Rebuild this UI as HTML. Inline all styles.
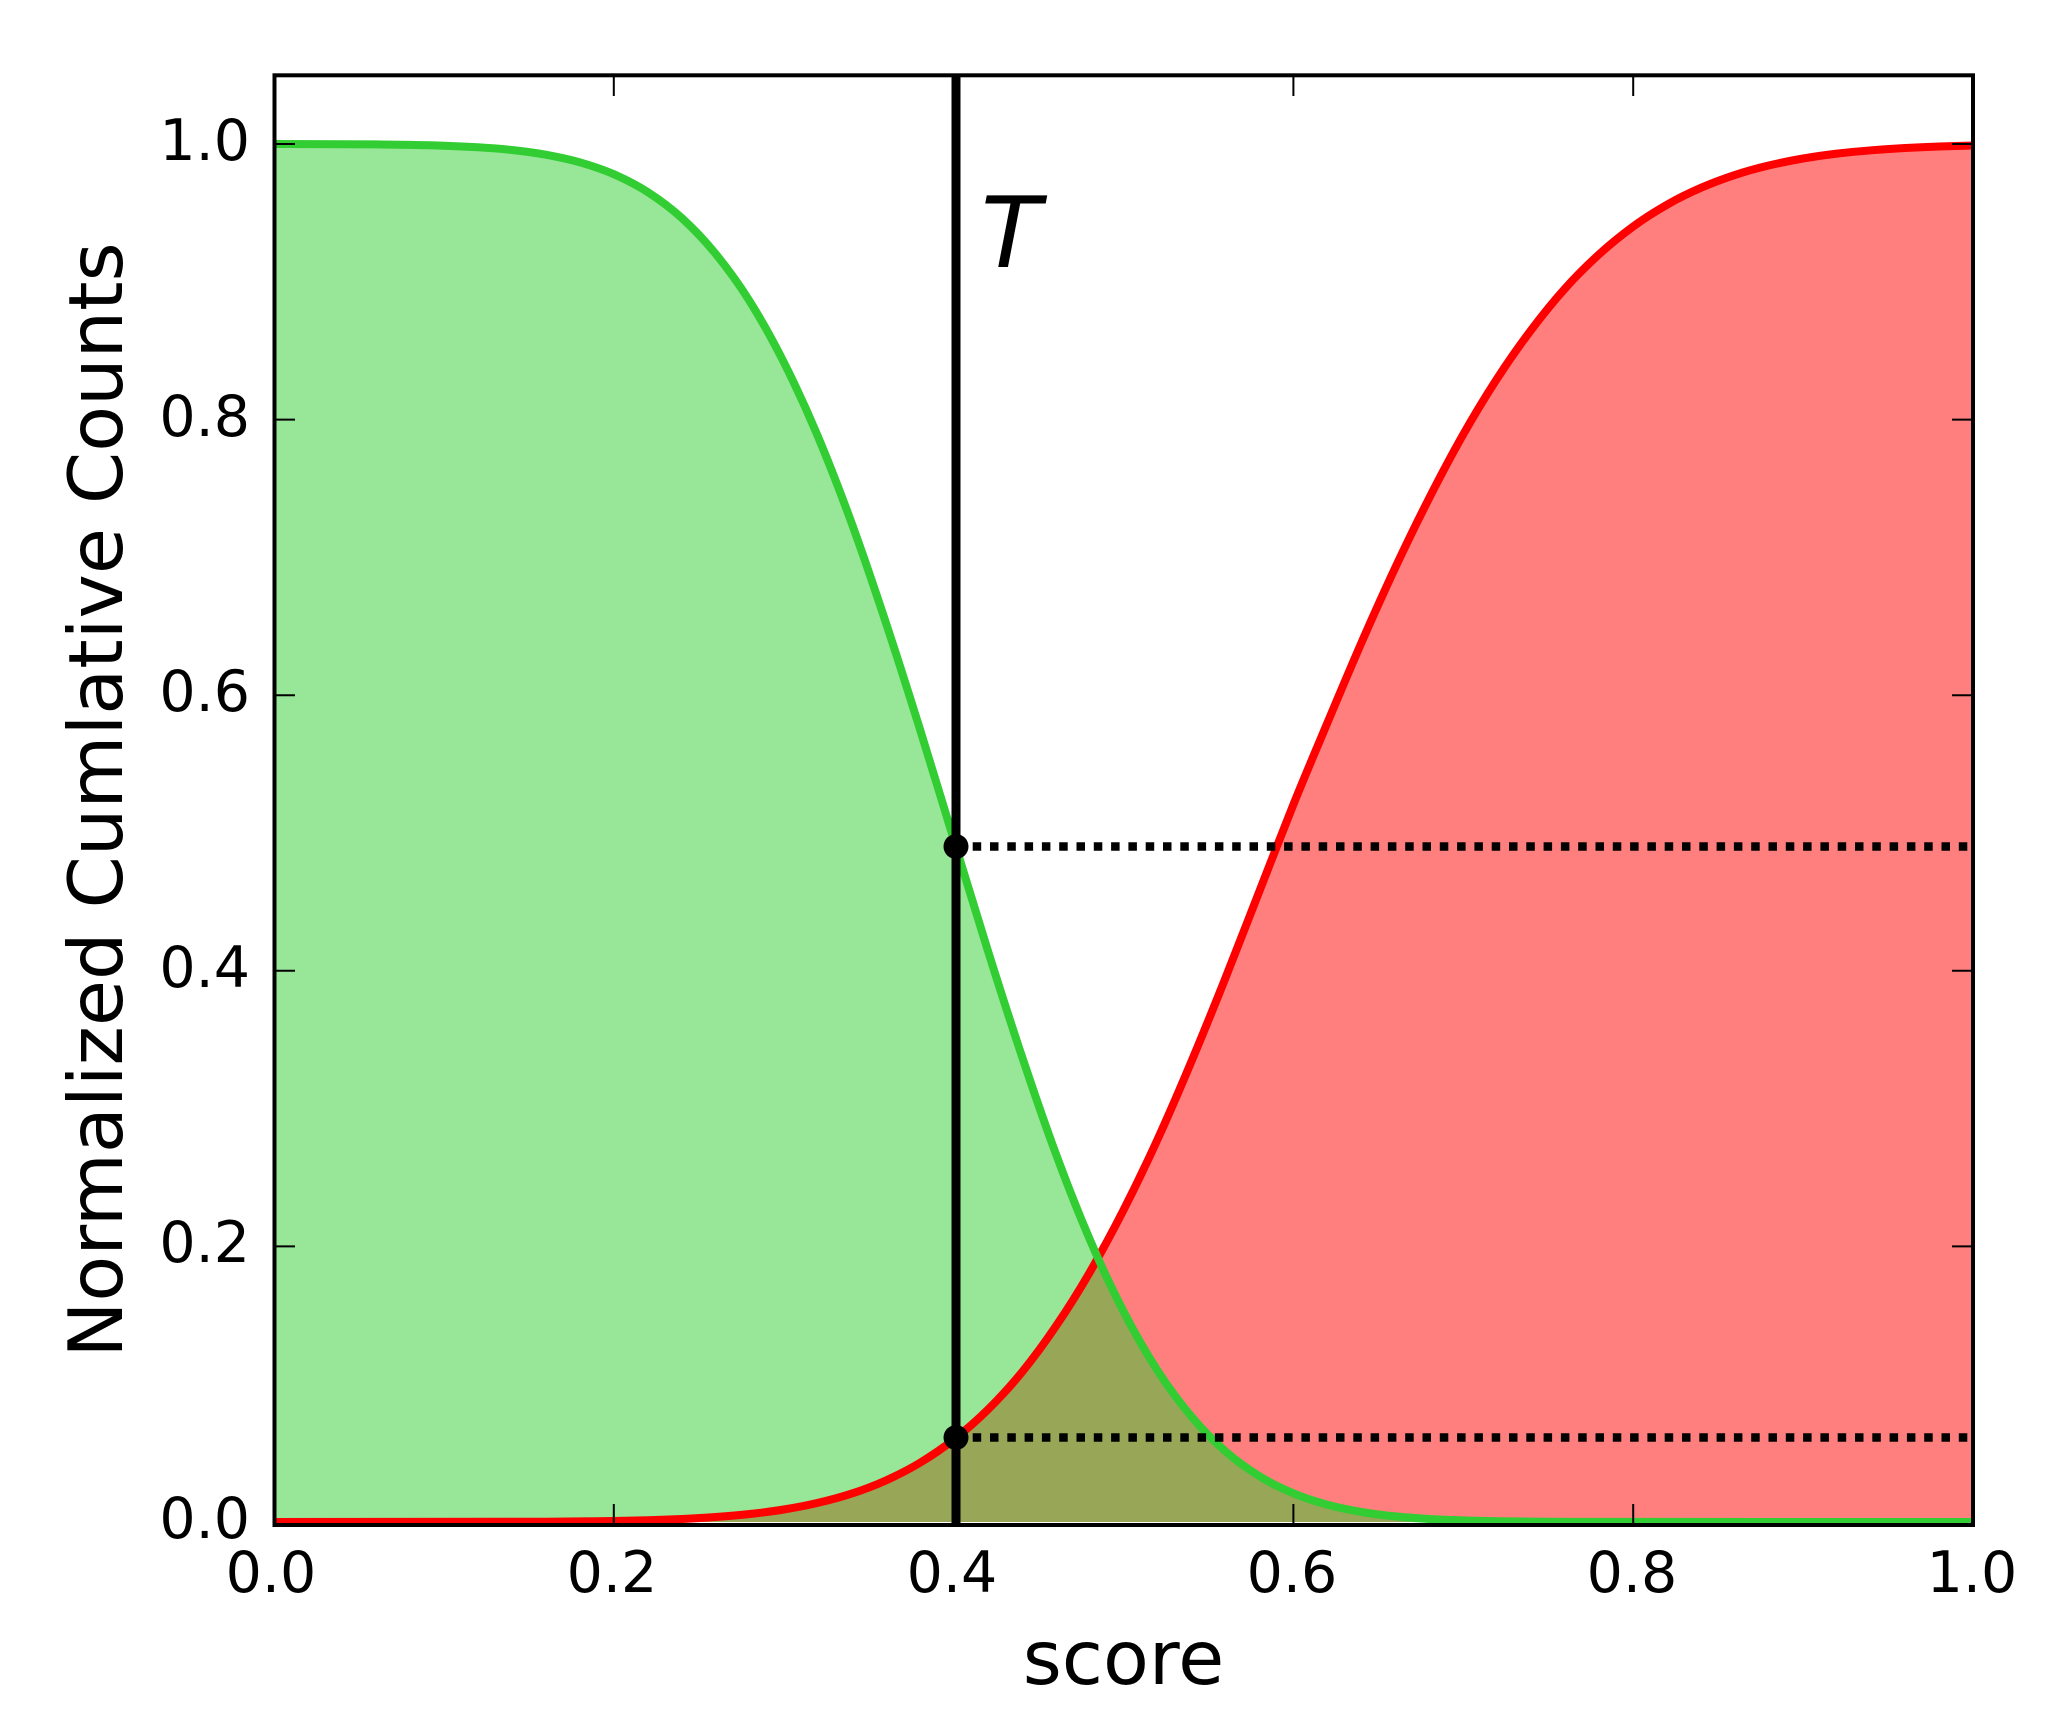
<!DOCTYPE html>
<html>
<head>
<meta charset="utf-8">
<style>
  html, body { margin: 0; padding: 0; background: #ffffff; }
  svg { display: block; }
  text { font-family: "DejaVu Sans", "Liberation Sans", sans-serif; fill: #000; }
</style>
</head>
<body>
<svg width="2068" height="1725" viewBox="0 0 2068 1725" xmlns="http://www.w3.org/2000/svg">
  <defs>
    <path id="redcurve" d="M274,1522 L545.8,1521.7 L579.8,1521.4 C591.1,1521.3 602.5,1521.2 613.8,1521.0 C625.1,1520.8 636.5,1520.5 647.8,1520.2 C659.1,1519.9 670.5,1519.5 681.8,1519.0 C693.1,1518.5 704.4,1517.8 715.7,1517.0 C727.0,1516.2 738.4,1515.3 749.7,1514.0 C761.0,1512.8 772.4,1511.4 783.7,1509.5 C795.0,1507.7 806.4,1505.6 817.7,1502.9 C829.0,1500.3 840.4,1497.3 851.7,1493.6 C863.0,1489.9 874.3,1485.7 885.6,1480.6 C896.9,1475.5 908.3,1469.8 919.6,1463.0 C930.9,1456.2 942.3,1448.6 953.6,1439.7 C964.9,1430.9 976.3,1421.1 987.6,1409.9 C998.9,1398.7 1010.3,1386.5 1021.6,1372.6 C1032.9,1358.8 1044.2,1343.5 1055.5,1326.8 C1066.8,1310.2 1078.2,1292.2 1089.5,1272.7 C1100.8,1253.3 1112.2,1232.3 1123.5,1210.1 C1134.8,1187.9 1146.2,1164.3 1157.5,1139.5 C1168.8,1114.7 1180.2,1088.2 1191.5,1061.3 C1202.8,1034.4 1214.1,1006.5 1225.4,978.1 C1236.7,949.8 1248.1,920.1 1259.4,891.2 C1270.7,862.3 1282.1,832.6 1293.4,804.5 C1304.7,776.4 1316.1,749.8 1327.4,722.8 C1338.7,695.9 1350.1,668.7 1361.4,642.8 C1372.7,616.9 1384.0,591.8 1395.3,567.6 C1406.6,543.5 1418.0,520.1 1429.3,497.9 C1440.6,475.7 1452.0,454.2 1463.3,434.3 C1474.6,414.4 1486.0,395.7 1497.3,378.3 C1508.6,360.9 1520.0,344.8 1531.3,329.8 C1542.6,314.8 1553.9,300.9 1565.2,288.3 C1576.5,275.7 1587.9,264.5 1599.2,254.2 C1610.5,243.9 1621.9,234.8 1633.2,226.5 C1644.5,218.2 1655.9,211.1 1667.2,204.6 C1678.5,198.1 1689.9,192.6 1701.2,187.7 C1712.5,182.8 1723.8,178.6 1735.1,174.9 C1746.4,171.2 1757.8,168.1 1769.1,165.4 C1780.4,162.7 1791.8,160.5 1803.1,158.5 C1814.4,156.5 1825.8,155.0 1837.1,153.6 C1848.4,152.2 1859.8,151.2 1871.1,150.3 C1882.4,149.4 1893.7,148.6 1905.0,148.0 C1916.3,147.4 1927.7,146.9 1939.0,146.5 C1950.3,146.1 1961.7,145.8 1973.0,145.5"/>
    <path id="greencurve" d="M274,144 L375.9,144.4 L409.9,144.9 C421.2,145.1 432.6,145.3 443.9,145.7 C455.2,146.1 466.6,146.6 477.9,147.3 C489.2,148.0 500.6,148.8 511.9,150.0 C523.2,151.2 534.5,152.7 545.8,154.7 C557.1,156.8 568.5,159.1 579.8,162.3 C591.1,165.6 602.5,169.2 613.8,174.2 C625.1,179.2 636.5,184.8 647.8,192.1 C659.1,199.4 670.5,207.7 681.8,218.0 C693.1,228.3 704.4,240.0 715.7,253.9 C727.0,267.8 738.4,283.2 749.7,301.2 C761.0,319.2 772.4,339.6 783.7,362.0 C795.0,384.5 806.4,409.0 817.7,435.9 C829.0,462.8 840.4,492.3 851.7,523.3 C863.0,554.3 874.3,587.8 885.6,621.9 C896.9,656.0 908.3,691.9 919.6,728.1 C930.9,764.3 942.3,802.2 953.6,839.1 C964.9,876.1 976.3,913.8 987.6,949.8 C998.9,985.8 1010.3,1021.5 1021.6,1055.3 C1032.9,1089.1 1044.2,1122.2 1055.5,1152.8 C1066.8,1183.4 1078.2,1212.4 1089.5,1238.8 C1100.8,1265.2 1112.2,1289.4 1123.5,1311.3 C1134.8,1333.3 1146.2,1353.0 1157.5,1370.5 C1168.8,1388.1 1180.2,1403.1 1191.5,1416.6 C1202.8,1430.1 1214.1,1441.4 1225.4,1451.3 C1236.7,1461.2 1248.1,1469.2 1259.4,1476.2 C1270.7,1483.2 1282.1,1488.6 1293.4,1493.3 C1304.7,1498.1 1316.1,1501.6 1327.4,1504.7 C1338.7,1507.8 1350.1,1510.0 1361.4,1511.9 C1372.7,1513.9 1384.0,1515.2 1395.3,1516.4 C1406.6,1517.6 1418.0,1518.3 1429.3,1519.0 C1440.6,1519.7 1452.0,1520.0 1463.3,1520.4 C1474.6,1520.8 1486.0,1521.0 1497.3,1521.2 L1531.3,1521.6 L1565.2,1521.9 L1973,1522"/>
  </defs>

  <rect x="0" y="0" width="2068" height="1725" fill="#ffffff"/>

  <!-- red fill -->
  <path fill="#ff0000" fill-opacity="0.5" d="M274,1522 L545.8,1521.7 L579.8,1521.4 C591.1,1521.3 602.5,1521.2 613.8,1521.0 C625.1,1520.8 636.5,1520.5 647.8,1520.2 C659.1,1519.9 670.5,1519.5 681.8,1519.0 C693.1,1518.5 704.4,1517.8 715.7,1517.0 C727.0,1516.2 738.4,1515.3 749.7,1514.0 C761.0,1512.8 772.4,1511.4 783.7,1509.5 C795.0,1507.7 806.4,1505.6 817.7,1502.9 C829.0,1500.3 840.4,1497.3 851.7,1493.6 C863.0,1489.9 874.3,1485.7 885.6,1480.6 C896.9,1475.5 908.3,1469.8 919.6,1463.0 C930.9,1456.2 942.3,1448.6 953.6,1439.7 C964.9,1430.9 976.3,1421.1 987.6,1409.9 C998.9,1398.7 1010.3,1386.5 1021.6,1372.6 C1032.9,1358.8 1044.2,1343.5 1055.5,1326.8 C1066.8,1310.2 1078.2,1292.2 1089.5,1272.7 C1100.8,1253.3 1112.2,1232.3 1123.5,1210.1 C1134.8,1187.9 1146.2,1164.3 1157.5,1139.5 C1168.8,1114.7 1180.2,1088.2 1191.5,1061.3 C1202.8,1034.4 1214.1,1006.5 1225.4,978.1 C1236.7,949.8 1248.1,920.1 1259.4,891.2 C1270.7,862.3 1282.1,832.6 1293.4,804.5 C1304.7,776.4 1316.1,749.8 1327.4,722.8 C1338.7,695.9 1350.1,668.7 1361.4,642.8 C1372.7,616.9 1384.0,591.8 1395.3,567.6 C1406.6,543.5 1418.0,520.1 1429.3,497.9 C1440.6,475.7 1452.0,454.2 1463.3,434.3 C1474.6,414.4 1486.0,395.7 1497.3,378.3 C1508.6,360.9 1520.0,344.8 1531.3,329.8 C1542.6,314.8 1553.9,300.9 1565.2,288.3 C1576.5,275.7 1587.9,264.5 1599.2,254.2 C1610.5,243.9 1621.9,234.8 1633.2,226.5 C1644.5,218.2 1655.9,211.1 1667.2,204.6 C1678.5,198.1 1689.9,192.6 1701.2,187.7 C1712.5,182.8 1723.8,178.6 1735.1,174.9 C1746.4,171.2 1757.8,168.1 1769.1,165.4 C1780.4,162.7 1791.8,160.5 1803.1,158.5 C1814.4,156.5 1825.8,155.0 1837.1,153.6 C1848.4,152.2 1859.8,151.2 1871.1,150.3 C1882.4,149.4 1893.7,148.6 1905.0,148.0 C1916.3,147.4 1927.7,146.9 1939.0,146.5 C1950.3,146.1 1961.7,145.8 1973.0,145.5 L1973,1522 Z"/>

  <!-- green fill -->
  <path fill="#32cd32" fill-opacity="0.5" d="M274,1522 L274,144 L375.9,144.4 L409.9,144.9 C421.2,145.1 432.6,145.3 443.9,145.7 C455.2,146.1 466.6,146.6 477.9,147.3 C489.2,148.0 500.6,148.8 511.9,150.0 C523.2,151.2 534.5,152.7 545.8,154.7 C557.1,156.8 568.5,159.1 579.8,162.3 C591.1,165.6 602.5,169.2 613.8,174.2 C625.1,179.2 636.5,184.8 647.8,192.1 C659.1,199.4 670.5,207.7 681.8,218.0 C693.1,228.3 704.4,240.0 715.7,253.9 C727.0,267.8 738.4,283.2 749.7,301.2 C761.0,319.2 772.4,339.6 783.7,362.0 C795.0,384.5 806.4,409.0 817.7,435.9 C829.0,462.8 840.4,492.3 851.7,523.3 C863.0,554.3 874.3,587.8 885.6,621.9 C896.9,656.0 908.3,691.9 919.6,728.1 C930.9,764.3 942.3,802.2 953.6,839.1 C964.9,876.1 976.3,913.8 987.6,949.8 C998.9,985.8 1010.3,1021.5 1021.6,1055.3 C1032.9,1089.1 1044.2,1122.2 1055.5,1152.8 C1066.8,1183.4 1078.2,1212.4 1089.5,1238.8 C1100.8,1265.2 1112.2,1289.4 1123.5,1311.3 C1134.8,1333.3 1146.2,1353.0 1157.5,1370.5 C1168.8,1388.1 1180.2,1403.1 1191.5,1416.6 C1202.8,1430.1 1214.1,1441.4 1225.4,1451.3 C1236.7,1461.2 1248.1,1469.2 1259.4,1476.2 C1270.7,1483.2 1282.1,1488.6 1293.4,1493.3 C1304.7,1498.1 1316.1,1501.6 1327.4,1504.7 C1338.7,1507.8 1350.1,1510.0 1361.4,1511.9 C1372.7,1513.9 1384.0,1515.2 1395.3,1516.4 C1406.6,1517.6 1418.0,1518.3 1429.3,1519.0 C1440.6,1519.7 1452.0,1520.0 1463.3,1520.4 C1474.6,1520.8 1486.0,1521.0 1497.3,1521.2 L1531.3,1521.6 L1565.2,1521.9 L1973,1522 Z"/>

  <!-- curve lines -->
  <use href="#redcurve" fill="none" stroke="#ff0000" stroke-width="8" stroke-linejoin="round"/>
  <use href="#greencurve" fill="none" stroke="#32cd32" stroke-width="8" stroke-linejoin="round"/>

  <!-- dotted horizontal lines -->
  <line x1="972.7" y1="846.5" x2="1973" y2="846.5" stroke="#000" stroke-width="8.5" stroke-dasharray="8.5 8.8" stroke-linecap="butt"/>
  <line x1="972.7" y1="1437.5" x2="1973" y2="1437.5" stroke="#000" stroke-width="8.5" stroke-dasharray="8.5 8.8" stroke-linecap="butt"/>

  <!-- threshold line T -->
  <line x1="956" y1="75" x2="956" y2="1525" stroke="#000" stroke-width="9"/>

  <!-- markers -->
  <circle cx="956" cy="846.5" r="12.5" fill="#000"/>
  <circle cx="956" cy="1437.5" r="12.5" fill="#000"/>

  <!-- axes frame -->
  <rect x="274.5" y="75.3" width="1698.5" height="1449.7" fill="none" stroke="#000" stroke-width="4"/>

  <!-- ticks -->
  <g stroke="#000" stroke-width="2">
    <line x1="613.8" y1="1525" x2="613.8" y2="1504"/>
    <line x1="953.6" y1="1525" x2="953.6" y2="1504"/>
    <line x1="1293.4" y1="1525" x2="1293.4" y2="1504"/>
    <line x1="1633.2" y1="1525" x2="1633.2" y2="1504"/>
    <line x1="613.8" y1="75" x2="613.8" y2="96"/>
    <line x1="953.6" y1="75" x2="953.6" y2="96"/>
    <line x1="1293.4" y1="75" x2="1293.4" y2="96"/>
    <line x1="1633.2" y1="75" x2="1633.2" y2="96"/>
    <line x1="274" y1="144" x2="295" y2="144"/>
    <line x1="274" y1="419.6" x2="295" y2="419.6"/>
    <line x1="274" y1="695.2" x2="295" y2="695.2"/>
    <line x1="274" y1="970.8" x2="295" y2="970.8"/>
    <line x1="274" y1="1246.4" x2="295" y2="1246.4"/>
    <line x1="1973" y1="144" x2="1952" y2="144"/>
    <line x1="1973" y1="419.6" x2="1952" y2="419.6"/>
    <line x1="1973" y1="695.2" x2="1952" y2="695.2"/>
    <line x1="1973" y1="970.8" x2="1952" y2="970.8"/>
    <line x1="1973" y1="1246.4" x2="1952" y2="1246.4"/>
  </g>

  <!-- y tick labels -->
  <g font-size="57" text-anchor="end">
    <text x="250" y="160">1.0</text>
    <text x="250" y="436">0.8</text>
    <text x="250" y="711">0.6</text>
    <text x="250" y="987">0.4</text>
    <text x="250" y="1262">0.2</text>
    <text x="250" y="1538">0.0</text>
  </g>

  <!-- x tick labels -->
  <g font-size="57" text-anchor="middle">
    <text x="271" y="1592">0.0</text>
    <text x="612" y="1592">0.2</text>
    <text x="952" y="1592">0.4</text>
    <text x="1292" y="1592">0.6</text>
    <text x="1632" y="1592">0.8</text>
    <text x="1972" y="1592">1.0</text>
  </g>

  <!-- axis labels -->
  <text x="1123.5" y="1684" font-size="75" text-anchor="middle">score</text>
  <text transform="translate(122,800) rotate(-90)" x="0" y="0" font-size="75" text-anchor="middle">Normalized Cumlative Counts</text>

  <!-- T label -->
  <text x="981" y="267" font-size="98" font-style="italic">T</text>
</svg>
</body>
</html>
